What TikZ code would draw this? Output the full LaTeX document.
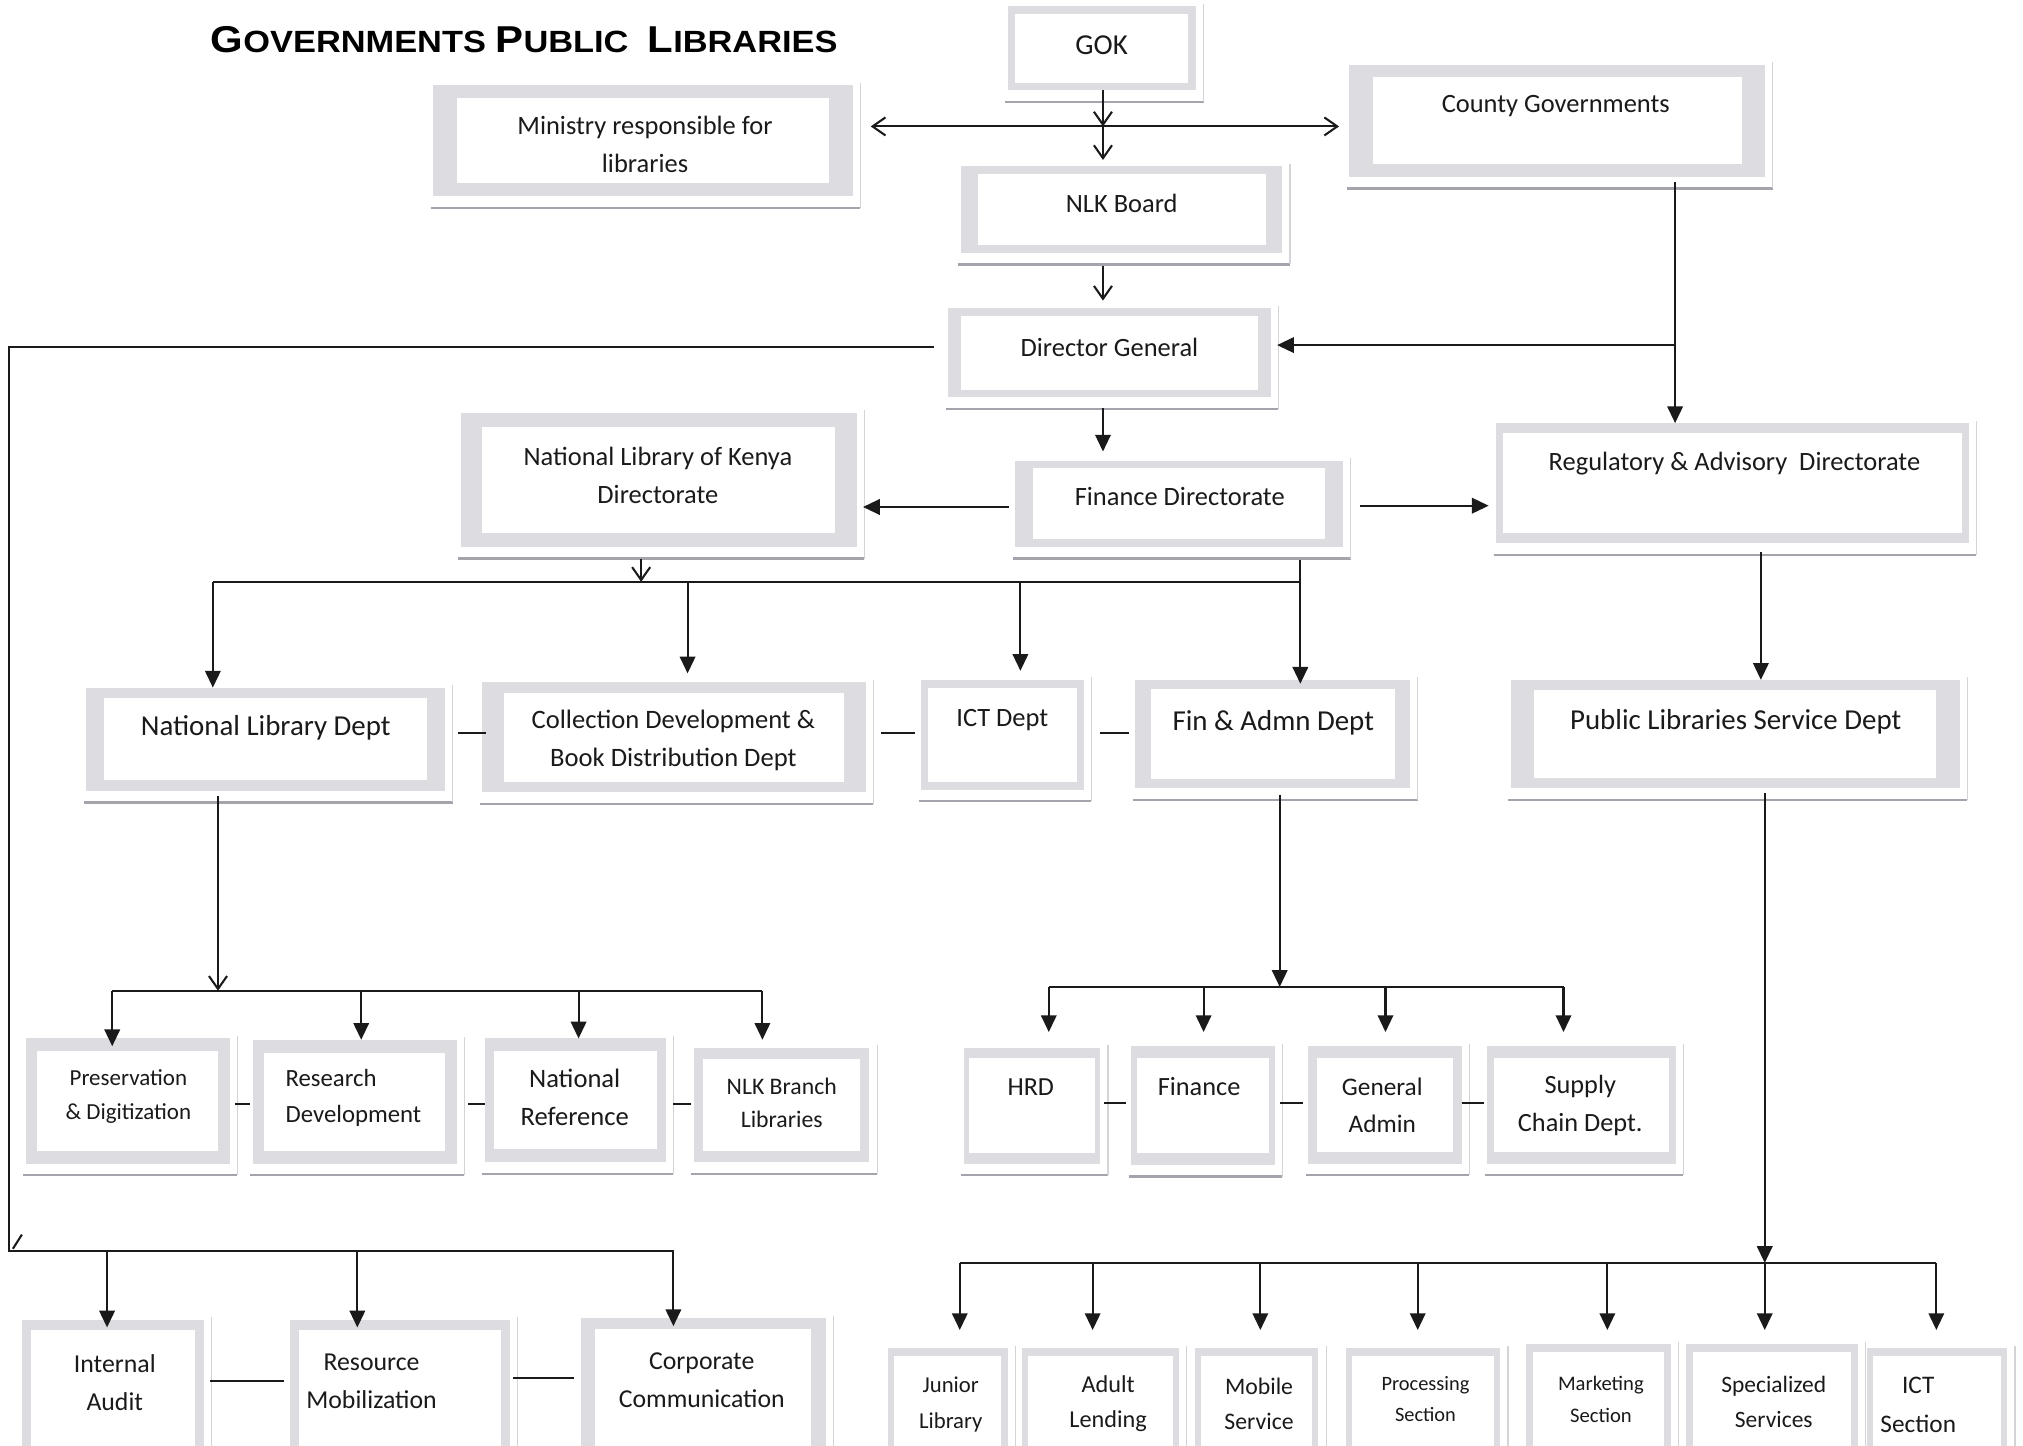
\documentclass[tikz,border=0pt]{standalone}
\usepackage{fontspec}
\setmainfont{Carlito}
\newfontfamily\titlefont{Liberation Sans}
\usetikzlibrary{arrows.meta,fit,calc}
\definecolor{framegray}{HTML}{DCDCE1}
\definecolor{shadowgray}{HTML}{A4A4AC}
\definecolor{faintgray}{HTML}{D4D4D8}
\definecolor{inkc}{HTML}{1A1A1A}
\newcommand\fs[2]{\fontsize{#1}{#2}\selectfont}
% #1 name, #2 x1, #3 y1, #4 x2, #5 y2, #6 side frame, #7 top/bottom frame
\newcommand\orgbox[7]{%
  \draw[shadowline] ({#2-2},{#5+9}) -- ({#4+6},{#5+9});
  \draw[faintline] ({#4+6},{#3-2}) -- ({#4+6},{#5+9});
  \node[frame, fit={(#2,#3) (#4,#5)}] (#1) {};
  \fill[white] ({#2+#6},{#3+#7}) rectangle ({#4-#6},{#5-#7});
}
\tikzset{
  frame/.style={fill=framegray, draw=none, inner sep=0pt, outer sep=0pt},
  shadowline/.style={draw=shadowgray, line width=0.9pt},
  faintline/.style={draw=faintgray, line width=0.5pt},
  conn/.style={draw=inkc, line width=0.8pt},
  fa/.style={conn, -{Triangle[length=6.5pt,width=6pt]}},
  va/.style={conn, -{Straight Barb[length=5pt,width=7pt]}},
  vva/.style={conn, {Straight Barb[length=5pt,width=7pt]}-{Straight Barb[length=5pt,width=7pt]}},
  txt/.style={inner sep=0pt, align=center, text=inkc, font=\fs{10.25}{14.5}},
}
\begin{document}
\begin{tikzpicture}[x=0.5pt,y=-0.5pt]
\useasboundingbox (0,0) rectangle (1568.2,1120.9);
\fill[white] (0,0) rectangle (1568.2,1120.9);

% title
\node[anchor=base west, inner sep=0pt, text=black] (title) at (163,41)
  {\scalebox{1.12}[1]{\titlefont\bfseries\fs{14.5}{16}G\fs{11.9}{14}OVERNMENTS \fs{14.5}{16}P\fs{11.9}{14}UBLIC\ \ \fs{14.5}{16}L\fs{11.9}{14}IBRARIES}};

% boxes
\orgbox{gok}{781}{5}{927}{70}{6}{6}
\orgbox{min}{336}{66}{661}{152}{18}{10}
\orgbox{cg}{1046}{50}{1368}{137}{18}{10}
\orgbox{nlkb}{745}{129}{994}{196}{13}{6}
\orgbox{dg}{735}{239}{985}{308}{10}{6}
\orgbox{nlkd}{357}{320}{664}{424}{17}{11}
\orgbox{findir}{787}{357}{1041}{424}{14}{6}
\orgbox{rad}{1160}{328}{1526}{421}{5}{8}
\orgbox{nld}{67}{533}{345}{613}{14}{8}
\orgbox{cdb}{374}{529}{671}{614}{17}{8}
\orgbox{ict}{714}{527}{840}{612}{5}{6}
\orgbox{fad}{880}{527}{1093}{611}{12}{7}
\orgbox{pls}{1171}{527}{1519}{611}{18}{8}
\orgbox{pres}{20}{805}{178}{902}{9}{10}
\orgbox{resd}{196}{806}{354}{902}{9}{10}
\orgbox{natref}{376}{805}{516}{901}{7}{10}
\orgbox{nlkbr}{538}{812}{674}{901}{7}{9}
\orgbox{hrd}{747}{812}{853}{902}{4}{8}
\orgbox{fin}{877}{811}{988}{903}{4}{9}
\orgbox{gen}{1014}{811}{1133}{902}{7}{9}
\orgbox{sup}{1153}{811}{1299}{902}{5}{9}
\orgbox{ia}{17}{1023}{158}{1140}{7}{8}
\orgbox{rm}{225}{1023}{395}{1140}{7}{8}
\orgbox{cc}{450}{1022}{640}{1140}{11}{8}
\orgbox{jl}{688}{1045}{781}{1140}{5}{6}
\orgbox{al}{792}{1045}{914}{1140}{5}{6}
\orgbox{ms}{926}{1045}{1022}{1140}{5}{6}
\orgbox{ps}{1043}{1045}{1163}{1140}{5}{6}
\orgbox{mk}{1183}{1042}{1295}{1140}{5}{6}
\orgbox{ss}{1307}{1042}{1440}{1140}{5}{6}
\orgbox{icts}{1447}{1045}{1556}{1140}{5}{6}

% texts
\node[txt, font=\fs{11.2}{14}] (gok-t) at (854,35) {GOK};
\node[txt] (min-t) at (500,112) {Ministry responsible for\\libraries};
\node[txt] (cg-t) at (1206,82) {County Governments};
\node[txt] (nlkb-t) at (869.5,158) {NLK Board};
\node[txt] (dg-t) at (860,269) {Director General};
\node[txt] (nlkd-t) at (510,368.5) {National Library of Kenya\\Directorate};
\node[txt] (findir-t) at (914.5,385) {Finance Directorate};
\node[txt] (rad-t) at (1344.5,359) {Regulatory \& Advisory\ \ Directorate};
\node[txt, font=\fs{11.2}{14}] (nld-t) at (206,564) {National Library Dept};
\node[txt, font=\fs{10.3}{15}] (cdb-t) at (522,574) {Collection Development \&\\Book Distribution Dept};
\node[txt] (ict-t) at (777,558) {ICT Dept};
\node[txt, font=\fs{11.2}{14}] (fad-t) at (987,560.5) {Fin \& Admn Dept};
\node[txt, font=\fs{11.2}{14}] (pls-t) at (1345.5,559.5) {Public Libraries Service Dept};
\node[txt, font=\fs{8.9}{13.2}] (pres-t) at (99.5,850) {Preservation\\\& Digitization};
\node[txt, font=\fs{9.6}{14}, anchor=west, align=left] (resd-t) at (221,851) {Research\\Development};
\node[txt, font=\fs{10.3}{14.5}] (natref-t) at (445.5,850.5) {National\\Reference};
\node[txt, font=\fs{9.2}{13}] (nlkbr-t) at (606,855) {NLK Branch\\Libraries};
\node[txt, font=\fs{10.1}{14}] (hrd-t) at (799,842.5) {HRD};
\node[txt, font=\fs{10.2}{14}] (fin-t) at (929.5,842.5) {Finance};
\node[txt, font=\fs{9.8}{14.5}] (gen-t) at (1071.5,857) {General\\Admin};
\node[txt, font=\fs{10.2}{14.5}] (sup-t) at (1225,857) {Supply\\Chain Dept.};
\node[txt, font=\fs{10}{14.75}] (ia-t) at (89,1071.5) {Internal\\Audit};
\node[txt, font=\fs{10}{14.75}] (rm-t) at (288,1071) {Resource\\Mobilization};
\node[txt, font=\fs{10}{15}] (cc-t) at (544,1070) {Corporate\\Communication};
\node[txt, font=\fs{8.8}{14}] (jl-t) at (737,1089) {Junior\\Library};
\node[txt, font=\fs{9.4}{13.5}] (al-t) at (859,1088) {Adult\\Lending};
\node[txt, font=\fs{9.2}{13.5}] (ms-t) at (976,1088) {Mobile\\Service};
\node[txt, font=\fs{7.9}{12}] (ps-t) at (1105,1084.5) {Processing\\Section};
\node[txt, font=\fs{8}{12.5}] (mk-t) at (1241,1084.5) {Marketing\\Section};
\node[txt, font=\fs{9.1}{13.5}] (ss-t) at (1375,1086.5) {Specialized\\Services};
\node[txt, font=\fs{9.8}{15}] (icts-t) at (1487,1089) {ICT\\Section};

% junction coordinates
\coordinate (j1) at (855,98);
\coordinate (j2) at (1298.5,267.5);
\coordinate (lt) at (7,269);
\coordinate (lb) at (7,970);
\coordinate (lr) at (522,970);
\coordinate (la) at (83,970);
\coordinate (lm) at (277,970);
\coordinate (y393) at (0,393);
\coordinate (y392) at (0,392);
\coordinate (h1) at (165,451);
\coordinate (h2) at (1008,451);
\coordinate (h3) at (497,451);
\coordinate (h4) at (533,451);
\coordinate (h5) at (791,451);
\coordinate (x1365) at (1365,0);
\coordinate (d1) at (0,568);
\coordinate (r0) at (169,768);
\coordinate (r1) at (87,768);
\coordinate (r2) at (280,768);
\coordinate (r3) at (448.5,768);
\coordinate (r4) at (591,768);
\coordinate (d2) at (0,856);
\coordinate (f0) at (992,765);
\coordinate (f1) at (813,765);
\coordinate (f2) at (933,765);
\coordinate (f3) at (1074,765);
\coordinate (f4) at (1212,765);
\coordinate (d3) at (0,855);
\coordinate (p1) at (744,979);
\coordinate (p2) at (847,979);
\coordinate (p3) at (977,979);
\coordinate (p4) at (1099,979);
\coordinate (p5) at (1246,979);
\coordinate (p6) at (1368,979);
\coordinate (p7) at (1501,979);
\coordinate (d4) at (0,1070.5);
\coordinate (d5) at (0,1068);

% top connectors
\draw[va] (gok.south -| j1) -- (j1);
\draw[vva, shorten <=7pt, shorten >=4pt] (min.east |- j1) -- (cg.west |- j1);
\draw[va, shorten >=2.5pt] (j1) -- (nlkb.north -| j1);
\draw[va, shorten <=5pt, shorten >=3pt] (nlkb.south -| j1) -- (dg.north -| j1);
\draw[fa, shorten <=4pt, shorten >=3.5pt] (dg.south -| j1) -- (findir.north -| j1);
\draw[fa, shorten <=2pt] (cg.south -| j2) -- (rad.north -| j2);
\draw[fa, shorten >=2.5pt] (j2) -- (dg.east |- j2);
% director general to left branch
\draw[fa, shorten <=5.5pt, shorten >=-3pt] (dg.west |- lt) -- (lt) -- (lb) -- (lr) -- (cc.north -| lr);
\draw[conn] (17,957) -- (10,968);
\draw[fa, shorten >=-3pt] (la) -- (ia.north -| la);
\draw[fa, shorten >=-3pt] (lm) -- (rm.north -| lm);
% finance directorate
\draw[fa, shorten <=2.5pt, shorten >=2.5pt] (findir.west |- y393) -- (nlkd.east |- y393);
\draw[fa, shorten <=6.5pt, shorten >=3pt] (findir.east |- y392) -- (rad.west |- y392);
\draw[va, shorten <=4.5pt] (nlkd.south -| h3) -- (h3);
\draw[conn] (h1) -- (h2);
\draw[fa, shorten <=5pt, shorten >=-1.5pt] (findir.south -| h2) -- (fad.north -| h2);
\draw[fa] (h1) -- (nld.north -| h1);
\draw[fa, shorten >=3.5pt] (h4) -- (cdb.north -| h4);
\draw[fa, shorten >=3.5pt] (h5) -- (ict.north -| h5);
\draw[fa, shorten <=3.5pt] (rad.south -| x1365) -- (pls.north -| x1365);
% row 1 dashes
\draw[conn, shorten <=5pt, shorten >=-1.5pt] (nld.east |- d1) -- (cdb.west |- d1);
\draw[conn, shorten <=6pt, shorten >=2.5pt] (cdb.east |- d1) -- (ict.west |- d1);
\draw[conn, shorten <=6.5pt, shorten >=2.5pt] (ict.east |- d1) -- (fad.west |- d1);
% national library dept branch
\draw[va, shorten <=2pt] (nld.south -| r0) -- (r0);
\draw[conn] (r1) -- (r4);
\draw[fa, shorten >=-3pt] (r1) -- (pres.north -| r1);
\draw[fa] (r2) -- (resd.north -| r2);
\draw[fa] (r3) -- (natref.north -| r3);
\draw[fa, shorten >=3pt] (r4) -- (nlkbr.north -| r4);
\draw[conn, shorten <=2pt, shorten >=1pt] (pres.east |- d2) -- (resd.west |- d2);
\draw[conn, shorten <=4.5pt] (resd.east |- d2) -- (natref.west |- d2);
\draw[conn, shorten <=3pt, shorten >=1pt] (natref.east |- d2) -- (nlkbr.west |- d2);
% fin & admn branch
\draw[fa, shorten <=2.5pt] (fad.south -| f0) -- (f0);
\draw[conn] (f1) -- (f4);
\draw[fa, shorten >=6pt] (f1) -- (hrd.north -| f1);
\draw[fa, shorten >=5.5pt] (f2) -- (fin.north -| f2);
\draw[fa, shorten >=5.5pt] (f3) -- (gen.north -| f3);
\draw[fa, shorten >=5.5pt] (f4) -- (sup.north -| f4);
\draw[conn, shorten <=1.5pt, shorten >=2pt] (hrd.east |- d3) -- (fin.west |- d3);
\draw[conn, shorten <=2pt, shorten >=2pt] (fin.east |- d3) -- (gen.west |- d3);
\draw[conn, shorten >=1.5pt] (gen.east |- d3) -- (sup.west |- d3);
% public libraries branch
\draw[fa, shorten <=2pt] (pls.south -| p6) -- (p6);
\draw[conn] (p1) -- (p7);
\draw[fa, shorten >=7pt] (p1) -- (jl.north -| p1);
\draw[fa, shorten >=7pt] (p2) -- (al.north -| p2);
\draw[fa, shorten >=7pt] (p3) -- (ms.north -| p3);
\draw[fa, shorten >=7pt] (p4) -- (ps.north -| p4);
\draw[fa, shorten >=5.5pt] (p5) -- (mk.north -| p5);
\draw[fa, shorten >=5.5pt] (p6) -- (ss.north -| p6);
\draw[fa, shorten >=7pt] (p7) -- (icts.north -| p7);
% bottom-left dashes
\draw[conn, shorten <=2.5pt, shorten >=2.5pt] (ia.east |- d4) -- (rm.west |- d4);
\draw[conn, shorten <=1.5pt, shorten >=2.5pt] (rm.east |- d5) -- (cc.west |- d5);
\end{tikzpicture}
\end{document}
